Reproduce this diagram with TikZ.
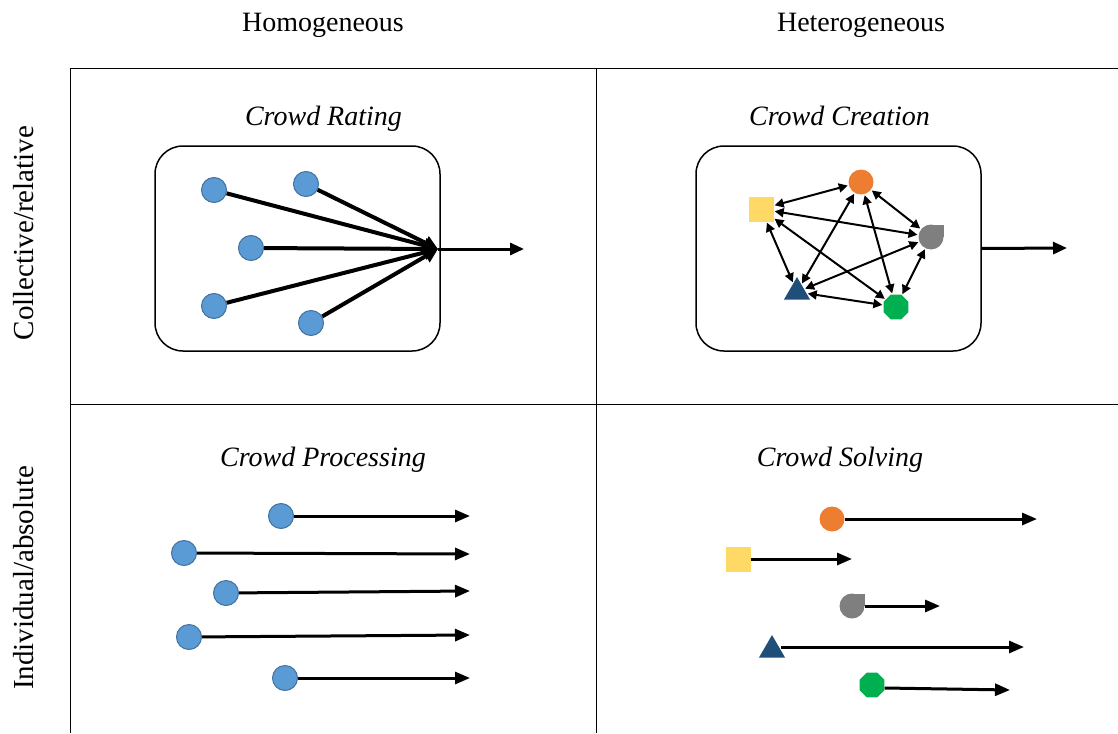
\documentclass[tikz,border=0pt]{standalone}
\usepackage{fontspec}
\setmainfont{Liberation Serif}
\usetikzlibrary{arrows.meta,shapes.geometric}
\definecolor{cblue}{HTML}{5B9BD5}
\definecolor{cblueb}{HTML}{41719C}
\definecolor{corange}{HTML}{ED7D31}
\definecolor{cyellow}{HTML}{FFD966}
\definecolor{cgray}{HTML}{7F7F7F}
\definecolor{cnavy}{HTML}{1F4E79}
\definecolor{cgreen}{HTML}{00B050}
\begin{document}
\begin{tikzpicture}[x=1pt,y=-1pt,
  lbl/.style={font=\fontsize{28}{33}\selectfont, inner sep=0pt, anchor=base},
  rlbl/.style={font=\fontsize{29}{34}\selectfont, inner sep=0pt, anchor=base, rotate=90},
  ttl/.style={font=\fontsize{28}{33}\selectfont\itshape, inner sep=0pt, anchor=base},
  grid/.style={line width=1pt, black},
  box/.style={draw, line width=1.5pt, rounded corners=28pt, minimum width=285pt, minimum height=205pt, inner sep=0pt},
  bdot/.style={circle, fill=cblue, draw=cblueb, line width=1pt, minimum size=25pt, inner sep=0pt},
  odot/.style={circle, fill=corange, minimum size=25pt, inner sep=0pt},
  ysq/.style={rectangle, fill=cyellow, minimum size=25pt, inner sep=0pt},
  gdot/.style={circle, fill=cgray, minimum size=25pt, inner sep=0pt},
  ntri/.style={regular polygon, regular polygon sides=3, fill=cnavy, minimum size=30pt, inner sep=0pt},
  goct/.style={regular polygon, regular polygon sides=8, fill=cgreen, minimum size=27pt, inner sep=0pt},
  fan/.style={line width=4pt, -{Triangle[length=14pt,width=14pt]}},
  outarr/.style={line width=3pt, -{Triangle[length=14pt,width=12pt]}},
  lnarr/.style={line width=3pt, -{Triangle[length=15pt,width=12pt]}},
  dbl/.style={line width=2pt, {Triangle[length=9pt,width=9pt]}-{Triangle[length=9pt,width=9pt]}, shorten <=1pt, shorten >=1pt}
]
\useasboundingbox (0,0) rectangle (1118,733);

% grid
\coordinate (gtl) at (70,69);
\coordinate (gbl) at (70,733);
\coordinate (gtr) at (1118,69);
\coordinate (mvt) at (596,69);
\coordinate (mvb) at (596,733);
\coordinate (mhl) at (70,404);
\coordinate (mhr) at (1118,404);
\draw[grid] (gbl) -- (gtl) -- (gtr);
\draw[grid] (mvt) -- (mvb);
\draw[grid] (mhl) -- (mhr);

% headers
\node[lbl] (hom) at (323,32) {Homogeneous};
\node[lbl] (het) at (861,32) {Heterogeneous};
\node[rlbl] (col) at (33,233) {Collective/relative};
\node[rlbl] (ind) at (33,578) {Individual/absolute};

% titles
\node[ttl] (t1) at (323.5,125.5) {Crowd Rating};
\node[ttl] (t2) at (839.5,125.5) {Crowd Creation};
\node[ttl] (t3) at (323,466) {Crowd Processing};
\node[ttl] (t4) at (840,466) {Crowd Solving};

% Crowd Rating
\node[box] (b1) at (297.5,248.5) {};
\coordinate (hub) at (438,249);
\coordinate (out1) at (524,249);
\node[bdot] (r1) at (214,190) {};
\node[bdot] (r2) at (306,184) {};
\node[bdot] (r3) at (251,248) {};
\node[bdot] (r4) at (214,306) {};
\node[bdot] (r5) at (311,323) {};
\foreach \n in {r1,r2,r3,r4,r5} \draw[fan] (\n) -- (hub);
\draw[outarr] (hub) -- (out1);

% Crowd Creation
\node[box] (b2) at (838.5,248.5) {};
\coordinate (out2) at (1067,248);
\node[odot] (co) at (861,182) {};
\node[ysq] (cy) at (761,209) {};
\node[gdot] (cg) at (931,237) {};
\fill[cgray] (cg.center) rectangle ([xshift=12.5pt,yshift=12.5pt]cg.center);
\node[ntri] (cn) at (797,292) {};
\node[goct] (cgr) at (896,307) {};
\draw[dbl] (co) -- (cy);
\draw[dbl] (co) -- (cg);
\draw[dbl] (co) -- (cn);
\draw[dbl] (co) -- (cgr);
\draw[dbl] (cy) -- (cg);
\draw[dbl] (cy) -- (cn);
\draw[dbl] (cy) -- (cgr);
\draw[dbl] (cg) -- (cn);
\draw[dbl] (cg) -- (cgr);
\draw[dbl] (cn) -- (cgr);
\draw[outarr] (b2.east) -- (out2);

% Crowd Processing
\node[bdot] (p1) at (281,516) {};
\node[bdot] (p2) at (184,553) {};
\node[bdot] (p3) at (226,593) {};
\node[bdot] (p4) at (189,637) {};
\node[bdot] (p5) at (285,678) {};
\coordinate (pe1) at (470,516);
\coordinate (pe2) at (470,554);
\coordinate (pe3) at (470,591);
\coordinate (pe4) at (470,635);
\coordinate (pe5) at (470,678);
\draw[lnarr] (p1) -- (pe1);
\draw[lnarr] (p2) -- (pe2);
\draw[lnarr] (p3) -- (pe3);
\draw[lnarr] (p4) -- (pe4);
\draw[lnarr] (p5) -- (pe5);

% Crowd Solving
\node[odot] (so) at (832,519) {};
\node[ysq] (sy) at (738,559) {};
\node[gdot] (sg) at (852,606) {};
\fill[cgray] (sg.center) rectangle ([xshift=12.5pt,yshift=12.5pt]sg.center);
\node[ntri] (sn) at (772,650) {};
\node[goct] (sgr) at (872,685) {};
\coordinate (se1) at (1037,519);
\coordinate (se2) at (852,559);
\coordinate (se3) at (940,606);
\coordinate (se4) at (1024,647);
\coordinate (se5) at (1010,690);
\draw[lnarr] (so) -- (se1);
\draw[lnarr] (sy) -- (se2);
\draw[lnarr] (sg) -- (se3);
\draw[lnarr] (sn.east |- se4) -- (se4);
\draw[lnarr] ([yshift=-3pt]sgr.east) -- (se5);
\end{tikzpicture}
\end{document}
